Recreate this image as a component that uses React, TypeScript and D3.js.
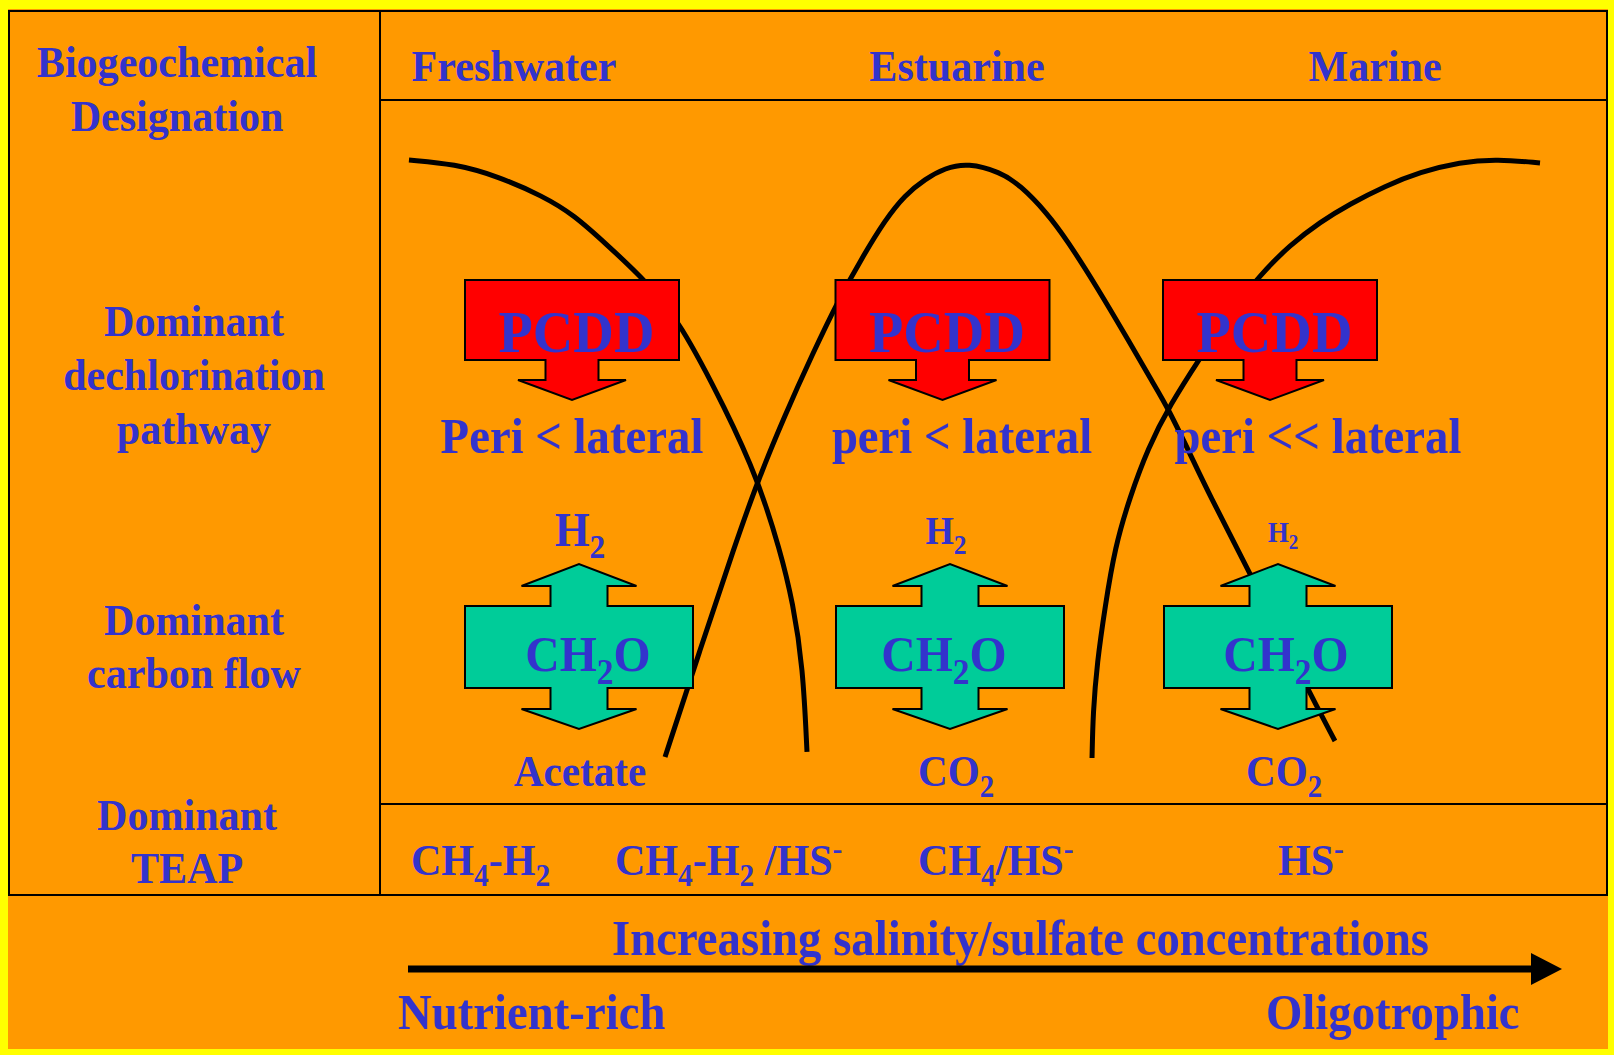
import React from "react";
import * as d3 from "d3";

// ---------- data ----------
type Seg = [string, "n" | "sub" | "sup"];

// Columns along the salinity gradient
const zones = ["Freshwater", "Estuarine", "Marine"];

// Headings of the left column, one list of lines per row
const rowHeadings = [
  ["Biogeochemical", "Designation"],
  ["Dominant", "dechlorination", "pathway"],
  ["Dominant", "carbon flow"],
  ["Dominant", "TEAP"],
];

const compound = "PCDD";
const dechlorinationPathways = ["Peri < lateral", "peri < lateral", "peri << lateral"];

const hydrogen: Seg[] = [["H", "n"], ["2", "sub"]];
const carbonSubstrate: Seg[] = [["CH", "n"], ["2", "sub"], ["O", "n"]];
const carbonProducts: Seg[][] = [
  [["Acetate", "n"]],
  [["CO", "n"], ["2", "sub"]],
  [["CO", "n"], ["2", "sub"]],
];

// Terminal electron accepting processes
const teapLabels: Seg[][] = [
  [["CH", "n"], ["4", "sub"], ["-H", "n"], ["2", "sub"]],
  [["CH", "n"], ["4", "sub"], ["-H", "n"], ["2", "sub"], [" /HS", "n"], ["-", "sup"]],
  [["CH", "n"], ["4", "sub"], ["/HS", "n"], ["-", "sup"]],
  [["HS", "n"], ["-", "sup"]],
];

const gradientLabel = "Increasing salinity/sulfate concentrations";
const gradientEnds = ["Nutrient-rich", "Oligotrophic"];

// Relative dominance (0-100) of each community along the salinity gradient (0-100)
const freshwaterCurve: [number, number][] = [
  [2.36, 91.48], [6.11, 90.91], [9.54, 89.2], [13.28, 86.36], [15.81, 83.66],
  [18.34, 79.69], [21.76, 74.15], [24.45, 68.47], [28.2, 55.97], [30.81, 46.02],
  [32.6, 36.08], [33.66, 28.55], [34.47, 19.46], [34.8, 7.39],
];
const estuarineCurve: [number, number][] = [
  [23.23, 6.68], [26.08, 21.88], [28.93, 36.79], [30.81, 46.02], [33.01, 55.26],
  [35.21, 63.78], [37.49, 72.02], [39.28, 77.56], [41.16, 82.95], [42.79, 86.51],
  [44.42, 88.78], [46.05, 90.34], [47.92, 91.05], [50.53, 89.77], [52.16, 87.93],
  [54.36, 83.95], [55.99, 80.11], [58.43, 73.44], [61.12, 65.48], [63.0, 59.8],
  [64.22, 56.25], [66.26, 48.86], [67.4, 44.6], [70.9, 32.81], [75.55, 16.48],
  [77.83, 8.95],
];
const marineCurve: [number, number][] = [
  [58.03, 6.53], [58.11, 12.93], [58.44, 20.03], [59.09, 27.98], [59.9, 36.51],
  [61.12, 43.61], [62.59, 50.57], [64.38, 56.68], [66.83, 63.35], [69.27, 69.74],
  [71.72, 75.14], [74.16, 79.4], [76.61, 82.67], [79.05, 85.23], [81.91, 87.78],
  [84.76, 89.77], [88.02, 91.19], [91.04, 91.62], [94.54, 91.05],
];
const communityCurves = [freshwaterCurve, estuarineCurve, marineCurve];

// ---------- layout ----------
const W = 1614;
const H = 1055;
const SX = 0.935; // horizontal squeeze of the bold serif lettering

const BLUE = "#3333CC";
const ORANGE = "#FF9900";
const YELLOW = "#FFFF00";
const RED = "#FF0000";
const GREEN = "#00CC99";
const FONT = "'Liberation Serif', 'Times New Roman', serif";

const table = { left: 9, right: 1607, top: 11, bottom: 895, divider: 380, headerLine: 100, teapLine: 804 };

const headingLayout = [
  { cx: 177, ys: [77, 131] },
  { cx: 194, ys: [336, 390, 444] },
  { cx: 194, ys: [635, 688] },
  { cx: 187, ys: [830, 883] },
];
const zoneCx = [514, 957, 1375];
const pcddCx = [572, 942.5, 1270];
const pathwayCx = [572, 962, 1318];
const carbonCx = [579, 950, 1278];
const h2Cx = [580, 946, 1283];
const h2Y = [546, 544, 542];
const h2Size = [48, 39, 29];
const ch2oCx = [588, 944, 1286];
const productCx = [580, 956, 1284];
const teapX = [411, 615, 918, 1278];

function Rich({
  x, y, size, segs, anchor = "middle",
}: { x: number; y: number; size: number; segs: Seg[]; anchor?: string }) {
  let shift = 0;
  const parts = segs.map(([t, k], i) => {
    const target = k === "sub" ? 0.25 * size : k === "sup" ? -0.36 * size : 0;
    const dy = target - shift;
    shift = target;
    return (
      <tspan key={i} dy={dy} fontSize={k === "n" ? size : size * 0.7}>
        {t}
      </tspan>
    );
  });
  return (
    <text
      transform={`translate(${x},${y}) scale(${SX},1)`}
      textAnchor={anchor}
      fontSize={size}
      fontFamily={FONT}
      fontWeight="bold"
      fill={BLUE}
      style={{ whiteSpace: "pre" }}
    >
      {parts}
    </text>
  );
}

function Label(props: { x: number; y: number; size: number; text: string; anchor?: string }) {
  return <Rich x={props.x} y={props.y} size={props.size} anchor={props.anchor} segs={[[props.text, "n"]]} />;
}

// Box with a downward block arrow below it
function downCallout(cx: number) {
  const top = 280, bottom = 360, half = 107, stem = 26.5, wing = 54, wingY = 380, tip = 400;
  return [
    [cx - half, top], [cx + half, top], [cx + half, bottom], [cx + stem, bottom],
    [cx + stem, wingY], [cx + wing, wingY], [cx, tip], [cx - wing, wingY],
    [cx - stem, wingY], [cx - stem, bottom], [cx - half, bottom],
  ];
}

// Box with block arrows pointing up and down
function upDownCallout(cx: number) {
  const top = 606, bottom = 688, half = 114, stem = 28.5, wing = 57.5;
  const upWing = 586, upTip = 564, downWing = 709, downTip = 729;
  return [
    [cx - half, top], [cx - stem, top], [cx - stem, upWing], [cx - wing, upWing],
    [cx, upTip], [cx + wing, upWing], [cx + stem, upWing], [cx + stem, top],
    [cx + half, top], [cx + half, bottom], [cx + stem, bottom], [cx + stem, downWing],
    [cx + wing, downWing], [cx, downTip], [cx - wing, downWing], [cx - stem, downWing],
    [cx - stem, bottom], [cx - half, bottom],
  ];
}

const poly = (pts: number[][]) => "M" + pts.map((p) => p.join(",")).join("L") + "Z";

export default function App() {
  const x = d3.scaleLinear().domain([0, 100]).range([table.divider, table.right]);
  const y = d3.scaleLinear().domain([0, 100]).range([table.teapLine, table.headerLine]);
  const line = d3
    .line<[number, number]>()
    .x((d) => x(d[0]))
    .y((d) => y(d[1]))
    .curve(d3.curveBasis);

  const arrowY = 969;
  const arrowStart = 408;
  const arrowBase = 1531;
  const arrowTip = 1562;

  return (
    <div style={{ position: "absolute", left: 0, top: 0 }}>
      <svg width={W} height={H} viewBox={`0 0 ${W} ${H}`} style={{ display: "block" }}>
        <rect x={0} y={0} width={W} height={H} fill={YELLOW} />
        <rect x={8} y={9} width={1600} height={1040} fill={ORANGE} />

        {/* table frame */}
        <g stroke="#000" strokeWidth={2} fill="none">
          <rect x={table.left} y={table.top} width={table.right - table.left} height={table.bottom - table.top} />
          <line x1={table.divider} x2={table.divider} y1={table.top} y2={table.bottom} />
          <line x1={table.divider} x2={table.right} y1={table.headerLine} y2={table.headerLine} />
          <line x1={table.divider} x2={table.right} y1={table.teapLine} y2={table.teapLine} />
        </g>

        {/* community dominance curves */}
        <g fill="none" stroke="#000" strokeWidth={5} strokeLinecap="butt">
          {communityCurves.map((c, i) => (
            <path key={i} d={line(c) || ""} />
          ))}
        </g>

        {/* dechlorination callouts */}
        {pcddCx.map((cx, i) => (
          <path key={"p" + i} d={poly(downCallout(cx))} fill={RED} stroke="#000" strokeWidth={2} />
        ))}
        {/* carbon flow callouts */}
        {carbonCx.map((cx, i) => (
          <path key={"c" + i} d={poly(upDownCallout(cx))} fill={GREEN} stroke="#000" strokeWidth={2} />
        ))}

        {/* left column headings */}
        {rowHeadings.map((lines, r) =>
          lines.map((t, j) => (
            <Label key={r + "-" + j} x={headingLayout[r].cx} y={headingLayout[r].ys[j]} size={45} text={t} />
          ))
        )}

        {/* column headings */}
        {zones.map((z, i) => (
          <Label key={z} x={zoneCx[i]} y={81} size={45} text={z} />
        ))}

        {zones.map((z, i) => (
          <g key={"t" + z}>
            <Label x={pcddCx[i] + 4.5} y={352} size={60} text={compound} />
            <Label x={pathwayCx[i]} y={453} size={50} text={dechlorinationPathways[i]} />
            <Rich x={h2Cx[i]} y={h2Y[i]} size={h2Size[i]} segs={hydrogen} />
            <Rich x={ch2oCx[i]} y={671} size={51} segs={carbonSubstrate} />
            <Rich x={productCx[i]} y={786} size={44} segs={carbonProducts[i]} />
          </g>
        ))}

        {teapLabels.map((segs, i) => (
          <Rich key={"teap" + i} x={teapX[i]} y={875} size={45} segs={segs} anchor="start" />
        ))}

        {/* salinity gradient arrow */}
        <Label x={612} y={955} size={50} text={gradientLabel} anchor="start" />
        <line x1={arrowStart} x2={arrowBase} y1={arrowY} y2={arrowY} stroke="#000" strokeWidth={7} />
        <path
          d={poly([[arrowBase, arrowY - 16], [arrowTip, arrowY], [arrowBase, arrowY + 16]])}
          fill="#000"
        />
        <Label x={398} y={1029} size={50} text={gradientEnds[0]} anchor="start" />
        <Label x={1266} y={1029} size={50} text={gradientEnds[1]} anchor="start" />
      </svg>
    </div>
  );
}
